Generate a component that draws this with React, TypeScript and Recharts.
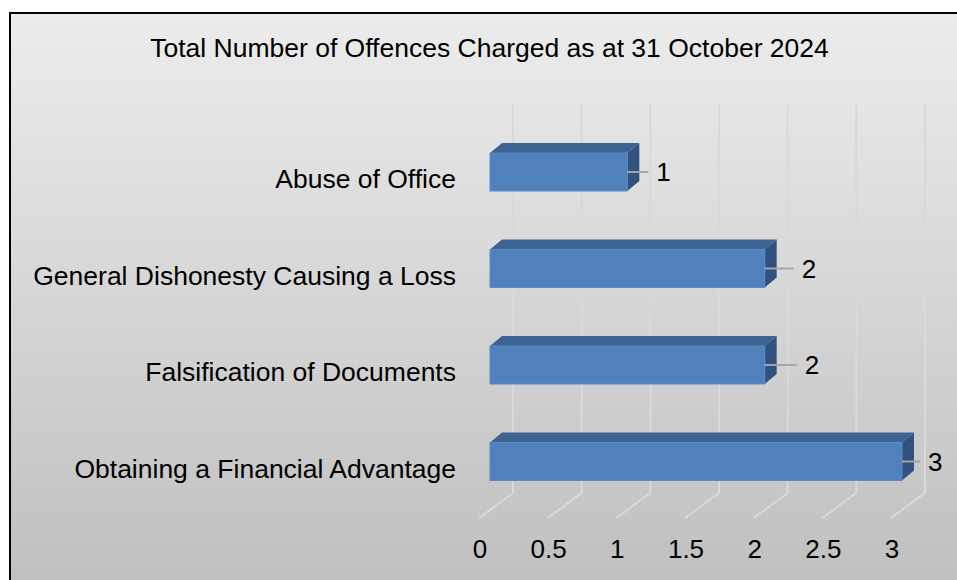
import React from 'react';
import { BarChart, Bar, XAxis, YAxis, LabelList, CartesianGrid } from 'recharts';

const title = 'Total Number of Offences Charged as at 31 October 2024';
const categories = [
  'Abuse of Office',
  'General Dishonesty Causing a Loss',
  'Falsification of Documents',
  'Obtaining a Financial Advantage',
];
const offences = [1, 2, 2, 3];
const xTicks = [0, 0.5, 1, 1.5, 2, 2.5, 3];

const data = categories.map((name, i) => ({ name, value: offences[i] }));

// leader-line lengths (style only) for each data label
const LEADERS = [21, 29, 32, 18];

const FONT = '"Liberation Sans", Arial, sans-serif';
const DEPTH_X = 12;
const DEPTH_Y = 10;

const Bar3D = (props: any) => {
  const { x, y, width, height } = props;
  const x2 = x + width;
  return (
    <g>
      <polygon
        points={`${x},${y} ${x + DEPTH_X},${y - DEPTH_Y} ${x2 + DEPTH_X},${y - DEPTH_Y} ${x2},${y}`}
        fill="#3d6392"
      />
      <polygon
        points={`${x2},${y} ${x2 + DEPTH_X},${y - DEPTH_Y} ${x2 + DEPTH_X},${y + height - DEPTH_Y} ${x2},${y + height}`}
        fill="#31527f"
      />
      <rect x={x} y={y} width={width} height={height} fill="#4f81bd" stroke="#5b8cc7" strokeWidth={1} />
    </g>
  );
};

const DataLabel = (props: any) => {
  const { x, y, width, height, value, index } = props;
  const cy = y + height / 2;
  const ex = x + width;
  const len = LEADERS[index] ?? 22;
  return (
    <g>
      <line x1={ex} y1={cy} x2={ex + len} y2={cy} stroke="#a6a6a6" strokeWidth={2} />
      <text x={ex + len + 8} y={cy + 9} fontSize={26} fontFamily={FONT} fill="#000">
        {value}
      </text>
    </g>
  );
};

const GridLine = (props: any) => {
  const { x1, y2 } = props;
  const bx = x1 + 23;
  const by = y2 - 17;
  return (
    <g>
      <line x1={x1 - 11} y1={y2 + 8} x2={bx} y2={by} stroke="#d9d9d9" strokeWidth={2} />
      <line x1={bx} y1={by} x2={bx} y2={by - 388} stroke="#d9d9d9" strokeWidth={2} />
    </g>
  );
};

const XTick = (props: any) => {
  const { x, y, payload } = props;
  return (
    <text x={x - 10} y={y + 48} textAnchor="middle" fontSize={26} fontFamily={FONT} fill="#000">
      {payload.value}
    </text>
  );
};

const YTick = (props: any) => {
  const { x, y, payload } = props;
  return (
    <text x={x - 34} y={y + 16} textAnchor="end" fontSize={26.5} fontFamily={FONT} fill="#000">
      {payload.value}
    </text>
  );
};

export default function App() {
  return (
    <div style={{ position: 'absolute', left: 0, top: 0, width: 957, height: 580, overflow: 'hidden', background: '#fff' }}>
      <div
        style={{
          position: 'absolute',
          left: 9,
          top: 12,
          width: 980,
          height: 600,
          border: '2px solid #000',
          boxSizing: 'border-box',
          background: 'linear-gradient(to bottom, #ececec 0%, #c0c0c0 95%)',
        }}
      />
      <div
        style={{
          position: 'absolute',
          left: 0,
          top: 33,
          width: 979,
          textAlign: 'center',
          fontFamily: FONT,
          fontSize: 26.5,
          color: '#000',
          lineHeight: '30px',
        }}
      >
        {title}
      </div>
      <div style={{ position: 'absolute', left: 0, top: 0 }}>
        <BarChart
          width={957}
          height={580}
          data={data}
          layout="vertical"
          margin={{ top: 124, right: 55, bottom: 10, left: 290 }}
          barSize={38}
        >
          <CartesianGrid horizontal={false} vertical={<GridLine />} />
          <XAxis
            type="number"
            domain={[0, 3]}
            ticks={xTicks}
            axisLine={false}
            tickLine={false}
            tickSize={0}
            tickMargin={0}
            height={60}
            tick={<XTick />}
            interval={0}
          />
          <YAxis
            type="category"
            dataKey="name"
            width={200}
            axisLine={false}
            tickLine={false}
            tickSize={0}
            tickMargin={0}
            tick={<YTick />}
            interval={0}
          />
          <Bar dataKey="value" shape={<Bar3D />} isAnimationActive={false}>
            <LabelList dataKey="value" content={<DataLabel />} />
          </Bar>
        </BarChart>
      </div>
    </div>
  );
}
